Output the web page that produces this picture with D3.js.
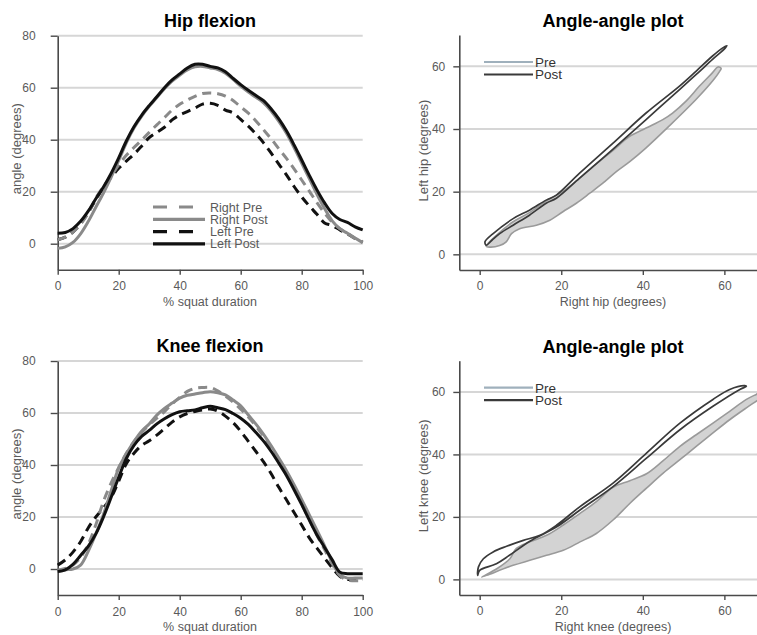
<!DOCTYPE html>
<html>
<head>
<meta charset="utf-8">
<script src="https://cdn.jsdelivr.net/npm/d3@7"></script>
<style>
  html, body { margin: 0; padding: 0; background: #fff; }
  svg { display: block; font-family: "Liberation Sans", Arial, Helvetica, sans-serif; }
</style>
</head>
<body>
<svg id="chart" width="757" height="635"></svg>
<script>
// ---------- data ----------
const pct = [0, 2.5, 5, 7.5, 10, 12.5, 15, 17.5, 20, 22.5, 25, 27.5, 30, 32.5, 35, 37.5, 40, 42.5, 45, 47.5, 50,
             52.5, 55, 57.5, 60, 62.5, 65, 67.5, 70, 72.5, 75, 77.5, 80, 82.5, 85, 87.5, 90, 92.5, 95, 97.5, 100];

const hipRightPre  = [1.5, 2.5, 4.5, 7.5, 11.8, 17.5, 22, 26, 30.3, 34, 37, 39.8, 42.8, 45.7, 48.5, 51.4, 53.6, 55.3, 56.7, 57.8, 58,
                      57.7, 56.8, 55.1, 52.6, 50.2, 47.2, 43.8, 40.3, 36.5, 32.8, 28.8, 24.5, 20.2, 15.8, 11.8, 8.3, 5.8, 4, 2, 0.8];
const hipRightPost = [-1.8, -1.2, 0.5, 3.8, 8.5, 14, 19.5, 25.5, 32, 38.8, 44.5, 49, 52.8, 56.2, 59.6, 62.5, 64.8, 66.8, 68, 68.2, 67.6,
                      67, 65.6, 63.2, 60.6, 58.3, 56.3, 54.2, 51, 47, 42.5, 37, 31, 25, 19, 13.5, 8.8, 5.8, 4, 2.2, 0.4];
const hipLeftPre   = [1.5, 2.5, 4.5, 7.8, 12, 17, 21.6, 25.5, 29, 31.8, 34.4, 37.5, 40.8, 42.8, 44.8, 47.6, 49.5, 50.8, 52.2, 53.7, 54,
                      53.2, 51.4, 50.3, 47.8, 45.2, 42.2, 38.8, 34.8, 30.6, 26.5, 22, 18, 14.5, 11.3, 8, 7, 5.3, 3.8, 2, 0.6];
const hipLeftPost  = [4, 4.3, 5.8, 8.6, 12.5, 17.3, 21.8, 27, 33, 39.5, 45, 49.4, 53.1, 56.5, 60, 63, 65.3, 67.6, 69, 69, 68.2,
                      67.6, 66.1, 63.6, 61.2, 59, 57, 55, 51.8, 48, 43.4, 38, 32.2, 26.3, 20.7, 15.7, 11.6, 9.3, 8.2, 6.5, 5.3];

const kneeRightPre  = [-0.5, 0.2, 1.5, 4.5, 9.5, 17, 26, 33, 39, 44.5, 49, 52.5, 55.5, 58, 60.5, 63.5, 66, 68.3, 69.5, 69.8, 69.8,
                       68.5, 66.5, 64.2, 61.5, 58.5, 55, 51, 46.5, 41.8, 36.5, 31, 25, 19, 13, 7.5, 2, -2.5, -4.3, -4.5, -4.5];
const kneeRightPost = [-1, -0.3, 0, 1.5, 6.8, 13.5, 21, 30, 38.8, 44.3, 49, 53, 55.8, 59.2, 61.8, 63.8, 65.7, 66.8, 67.3, 67.8, 68.2,
                       67.8, 67, 65, 62.8, 59.2, 55.7, 51.8, 47.4, 42.7, 37.8, 32.4, 26.7, 20.8, 14.9, 8.9, 2.6, -2.2, -3.5, -3.5, -3.5];
const kneeLeftPre   = [1.5, 3.5, 6.5, 10.5, 15.8, 20, 23.5, 27.5, 33.8, 40.5, 44.5, 47.5, 49.3, 51.5, 54, 56.5, 58.5, 59.8, 60.6, 61.2, 61.5,
                       60.7, 58.8, 56.3, 53, 49.1, 45.2, 41.2, 36.6, 31.4, 26.6, 21.7, 16.9, 12, 8, 4.2, 0.5, -2.8, -4, -4, -4];
const kneeLeftPost  = [-1, -0.3, 1.8, 5.2, 8.7, 13.5, 20, 27.5, 35.3, 42.5, 47.5, 51, 53.3, 55.8, 57.8, 59.4, 60.5, 60.9, 61.2, 62, 62.6,
                       62, 61.3, 59.8, 58, 55.6, 52.5, 49.2, 45.2, 40.7, 36, 30.5, 24.8, 18.8, 13.1, 8.3, 3.5, -1.2, -1.8, -1.8, -1.8];

// angle-angle loops (x = right joint angle, y = left joint angle), traced as closed outlines
const hipPreLoopRight  = [1.6, 2.4, 4.9, 6.5, 7.8, 9.8, 13.9, 17.2, 20.4, 23.7, 27, 30.2, 33.5, 36.8, 40.8, 46.5, 53.1, 57.1, 58.8, 59.2,
                          58.4, 57.1, 53.9, 50.6, 47.3, 44.9, 40.8, 36.7, 32.7, 28.6, 24.5, 20.4, 16.3, 12.2, 8.2, 4.1];
const hipPreLoopLeft   = [2.6, 2.3, 2.8, 4, 6.6, 8.2, 9.3, 10.9, 13.6, 16.3, 19.5, 22.7, 26.4, 29.6, 34, 41, 49.5, 55.3, 58.3, 59.4,
                          59.8, 58, 53.7, 48.9, 45.1, 43, 40.3, 37.6, 33.2, 28.9, 24.3, 20.1, 17, 13.3, 10.4, 6.1];
const hipPostLoopRight = [1.6, 3, 4.9, 8.2, 12.2, 16.3, 18.8, 24.5, 32.7, 40.8, 49, 53.1, 57.1, 60.2, 60.6,
                          59.6, 57.1, 53.1, 49, 40.8, 32.7, 24.5, 18.8, 16.3, 12.2, 8.2, 3.3, 1.3];
const hipPostLoopLeft  = [2.9, 4.5, 6.6, 9.3, 12.5, 16.3, 17.9, 24.3, 33.6, 43, 52.6, 57.4, 62.2, 65.8, 66.6,
                          65.9, 63.3, 58.5, 53.7, 45.1, 35.5, 25.9, 18.9, 17.3, 14.1, 11.4, 6.6, 4];

const kneePreLoopRight  = [0.5, 1.7, 8.2, 12.3, 16.4, 20.5, 24.6, 28.6, 32.7, 36.8, 40.9, 45, 49.1, 53.1, 57.2, 61.3, 65.4, 68, 70,
                           70, 67.8, 65.4, 61.3, 57.2, 53.1, 49.1, 45, 40.9, 36.8, 32.7, 28.6, 24.6, 20.5, 16.4, 12.3, 9, 7.4, 4.2];
const kneePreLoopLeft   = [0.75, 1.3, 4.5, 6.1, 7.7, 9.3, 12, 14.7, 19, 24.3, 29.2, 34, 38.3, 42.6, 46.9, 51.1, 54.9, 57.2, 59,
                           60.5, 59.2, 57.6, 53.8, 50, 46.3, 42.6, 38, 33.8, 31.6, 29.5, 24.9, 21.1, 17.4, 14.1, 12, 9.9, 6.6, 3.4];
const kneePostLoopRight = [-0.5, 0, 4.1, 7.3, 12.3, 18.9, 24.6, 32.7, 40.9, 49.1, 57.2, 63.8, 65.4,
                           65, 61.3, 57.2, 49.1, 40.9, 32.7, 24.6, 18.9, 14.8, 10.7, 6.6, 3.3, 0.9, -0.3];
const kneePostLoopLeft  = [1.3, 2.9, 5, 7.7, 12.2, 16.8, 22.2, 29.7, 38.8, 47.9, 55.4, 60.8, 61.8,
                           62, 60.8, 57.6, 50, 40.4, 30.8, 23.3, 17.4, 14.1, 12.5, 10.6, 8.8, 6.6, 4];

const timeTicks  = [0, 20, 40, 60, 80, 100];
const angleTicks = [0, 20, 40, 60, 80];
const loopTicks  = [0, 20, 40, 60];

const seriesLabels = ["Right Pre", "Right Post", "Left Pre", "Left Post"];
const loopLabels = ["Pre", "Post"];

// ---------- styles ----------
const seriesStyle = {
  "Right Pre":  { color: "#8a8a8a", dash: "9,6" },
  "Right Post": { color: "#8a8a8a", dash: null },
  "Left Pre":   { color: "#111111", dash: "9,6" },
  "Left Post":  { color: "#111111", dash: null }
};
const legendDash = "14,12";
const axisColor = "#4a4a4a";
const textColor = "#5a5a5a";
const gridColor = "#d6d6d6";

const svg = d3.select("#chart");
const defs = svg.append("defs");

function drawFrame(g, x, y, xTicks, yTicks, opts) {
  const [x0, x1] = x.range();
  g.append("g").selectAll("line").data(yTicks).join("line")
    .attr("x1", x0).attr("x2", opts.gridEnd)
    .attr("y1", d => y(d)).attr("y2", d => y(d))
    .attr("stroke", gridColor).attr("stroke-width", 2);
  const ya = g.append("g").attr("transform", `translate(${x0},0)`)
    .call(d3.axisLeft(y).tickValues(yTicks).tickSize(opts.yTickSize).tickSizeOuter(0).tickPadding(opts.yPad));
  const xa = g.append("g").attr("transform", `translate(0,${y.range()[0]})`)
    .call(d3.axisBottom(x).tickValues(xTicks).tickSize(5).tickSizeOuter(0).tickPadding(opts.xPad));
  [ya, xa].forEach(a => {
    a.select(".domain").attr("stroke", axisColor).attr("stroke-width", 1.6);
    a.selectAll(".tick line").attr("stroke", axisColor).attr("stroke-width", 1.4);
    a.selectAll(".tick text").attr("fill", textColor).style("font-size", "12px")
      .style("font-family", '"Liberation Sans", Arial, Helvetica, sans-serif');
  });
  g.append("text").attr("x", opts.titleX).attr("y", opts.titleY)
    .attr("text-anchor", "middle").attr("font-weight", "bold")
    .style("font-size", opts.titleSize + "px").attr("fill", "#000").text(opts.title);
  g.append("text").attr("x", opts.xLabelX).attr("y", opts.xLabelY)
    .attr("text-anchor", "middle").style("font-size", "12.5px").attr("fill", textColor).text(opts.xLabel);
  g.append("text").attr("transform", `translate(${opts.yLabelX},${opts.yLabelY}) rotate(-90)`)
    .attr("text-anchor", "middle").attr("dy", "0.35em")
    .style("font-size", "13px").attr("fill", textColor).text(opts.yLabel);
}

function timePanel(top, bottom, title, data, showLegend) {
  const g = svg.append("g");
  const x = d3.scaleLinear().domain([0, 100]).range([57.7, 362.7]);
  const y = d3.scaleLinear().domain([-10, 80]).range([bottom, top]);
  drawFrame(g, x, y, timeTicks, angleTicks, {
    gridEnd: 362.7, yTickSize: 7, yPad: 15, xPad: 7,
    title: title, titleX: 210, titleY: top - 9, titleSize: 18,
    xLabel: "% squat duration", xLabelX: 210, xLabelY: bottom + 36,
    yLabel: "angle (degrees)", yLabelX: 16, yLabelY: (top + bottom) / 2 - 4
  });
  const line = d3.line().x((d, i) => x(pct[i])).y(d => y(d)).curve(d3.curveCatmullRom.alpha(0.5));
  const order = ["Left Pre", "Right Pre", "Right Post", "Left Post"];
  order.forEach(name => {
    const st = seriesStyle[name];
    g.append("path").datum(data[name]).attr("d", line)
      .attr("fill", "none").attr("stroke", st.color).attr("stroke-width", 3)
      .attr("stroke-dasharray", st.dash).attr("stroke-linejoin", "round");
  });
  if (showLegend) {
    const lg = g.append("g");
    seriesLabels.forEach((name, i) => {
      const yy = 207 + i * 12.3;
      const st = seriesStyle[name];
      lg.append("line").attr("x1", 153).attr("x2", 205).attr("y1", yy).attr("y2", yy)
        .attr("stroke", st.color).attr("stroke-width", 3.2)
        .attr("stroke-dasharray", st.dash ? legendDash : null);
      lg.append("text").attr("x", 210).attr("y", yy).attr("dy", "0.36em")
        .style("font-size", "12.5px").attr("fill", textColor).text(name);
    });
  }
}

function loopPanel(top, bottom, idx, joint, preR, preL, postR, postL) {
  const g = svg.append("g");
  const x = d3.scaleLinear().domain([-5, 68]).range([459.3, 757]);
  const y = d3.scaleLinear().domain([-5, 70]).range([bottom, top]);
  drawFrame(g, x, y, loopTicks, loopTicks, {
    gridEnd: 757, yTickSize: 6, yPad: 8, xPad: 6,
    title: "Angle-angle plot", titleX: 613, titleY: top - 8, titleSize: 18,
    xLabel: `Right ${joint} (degrees)`, xLabelX: 613, xLabelY: bottom + 36,
    yLabel: `Left ${joint} (degrees)`, yLabelX: 423, yLabelY: (top + bottom) / 2 - 2
  });
  const cid = "clip" + idx;
  defs.append("clipPath").attr("id", cid).append("rect")
    .attr("x", 460).attr("y", top - 5).attr("width", 300).attr("height", bottom - top + 4);
  const loop = d3.line().x(d => x(d[0])).y(d => y(d[1])).curve(d3.curveCatmullRomClosed.alpha(0.5));
  const pre = preR.map((v, i) => [v, preL[i]]);
  const post = postR.map((v, i) => [v, postL[i]]);
  const pg = g.append("g").attr("clip-path", `url(#${cid})`);
  pg.append("path").datum(pre).attr("d", loop)
    .attr("fill", "#d3d3d3").attr("stroke", "#9a9a9a").attr("stroke-width", 1.6);
  pg.append("path").datum(post).attr("d", loop)
    .attr("fill", "none").attr("stroke", "#3a3a3a").attr("stroke-width", 1.7);
  const legendColors = ["#9fb0bc", "#3a3a3a"];
  loopLabels.forEach((name, i) => {
    const yy = top + 27 + i * 12.5;
    g.append("line").attr("x1", 484).attr("x2", 533).attr("y1", yy).attr("y2", yy)
      .attr("stroke", legendColors[i]).attr("stroke-width", 2.2);
    g.append("text").attr("x", 535).attr("y", yy).attr("dy", "0.36em")
      .style("font-size", "13.5px").attr("fill", "#333").text(name);
  });
}

timePanel(35.7, 269.7, "Hip flexion", {
  "Right Pre": hipRightPre, "Right Post": hipRightPost, "Left Pre": hipLeftPre, "Left Post": hipLeftPost
}, true);
timePanel(361, 595, "Knee flexion", {
  "Right Pre": kneeRightPre, "Right Post": kneeRightPost, "Left Pre": kneeLeftPre, "Left Post": kneeLeftPost
}, false);
loopPanel(35, 270, 1, "hip", hipPreLoopRight, hipPreLoopLeft, hipPostLoopRight, hipPostLoopLeft);
loopPanel(360.7, 595, 2, "knee", kneePreLoopRight, kneePreLoopLeft, kneePostLoopRight, kneePostLoopLeft);
</script>
</body>
</html>
